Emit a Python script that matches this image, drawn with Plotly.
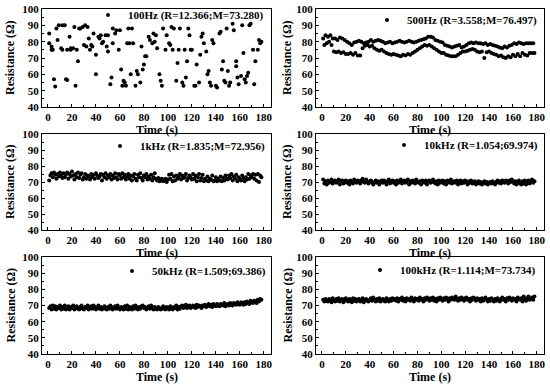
import plotly.graph_objects as go

# ---------------- data ----------------
T1 = [1, 1, 3, 3, 4, 5, 6, 7, 8, 9, 11, 12, 12, 14, 15, 16, 16, 18, 19, 19, 21, 22, 23, 24, 25,
      26, 27, 29, 30, 31, 32, 33, 34, 35, 36, 37, 38, 40, 40, 42, 43, 44, 45, 46, 48, 49, 50, 50,
      52, 53, 54, 54, 56, 57, 59, 60, 61, 62, 63, 64, 65, 66, 67, 68, 69, 70, 71, 73, 74, 75, 77,
      78, 79, 80, 81, 82, 84, 85, 87, 88, 89, 90, 91, 93, 94, 95, 96, 98, 99, 101, 102, 103, 104,
      105, 107, 108, 109, 110, 112, 113, 114, 115, 116, 117, 118, 119, 120, 122, 123, 124, 126,
      127, 128, 129, 130, 132, 133, 134, 135, 136, 137, 138, 140, 141, 143, 144, 145, 146, 147,
      148, 149, 150, 151, 152, 154, 155, 157, 157, 158, 159, 161, 162, 163, 164, 165, 166, 167,
      168, 169, 171, 172, 173, 175, 176, 177, 178]
R1 = [85, 79, 77, 75, 75, 57, 52.5, 88, 81, 90, 76, 75, 90, 90, 57, 56.5, 75, 83, 75, 76, 76, 89,
      53, 75, 68, 88, 88, 89, 78, 90, 77, 89, 82, 75, 78, 77, 85, 72, 60, 83, 82, 84, 79, 80, 84,
      77, 74, 84, 54, 58, 88, 79, 85, 87, 75, 87, 63, 53, 56, 55, 53, 79, 88, 79, 60, 88, 79, 53,
      62, 60, 55, 77, 63, 66, 71, 71, 83, 81, 79, 85, 80, 84, 76, 60, 56, 53, 88, 75, 84, 79, 78,
      89, 75, 88, 56, 67, 75, 88, 55, 53, 75, 58, 68, 88, 84, 75, 75, 53, 53, 66, 55, 72, 83, 85,
      79, 74, 60, 62, 55, 53, 81, 79, 53, 52, 85, 86, 63, 68, 56, 55, 88, 62, 53, 55, 91, 87, 65,
      68, 58, 54, 59, 90, 73, 57, 55, 59, 61, 90, 91, 75, 54, 68, 75, 81, 79, 80]

TIME = list(range(1, 179))

R2 = [82, 78, 84, 79, 83, 80, 84, 78, 82, 74,
      82, 73.5, 81, 74, 82.5, 73, 82, 73.5, 81, 72.5,
      80, 72.5, 79, 73, 78, 72, 79.5, 73, 80, 71.5,
      80.5, 71.5, 80, 76, 79, 77.5, 79.5, 78, 80, 77,
      81, 77.5, 80, 76, 80.5, 75, 81, 74.5, 80.5, 75,
      80, 74, 79, 73, 79.5, 72.5, 80, 72, 79, 72.5,
      79.5, 72, 80, 71.5, 80.5, 71, 80, 72, 79.5, 71.5,
      80, 72.5, 80.5, 72, 80, 73, 79.5, 74, 80, 75,
      80.5, 76, 81, 77, 81.5, 78, 82, 77.5, 83, 78,
      83, 77, 82.5, 76, 81, 75, 80.5, 74, 80, 73,
      79.5, 73, 78, 72, 77.5, 71.5, 77, 71, 76.5, 71,
      77, 71, 77.5, 72, 78, 73, 76.5, 74, 77, 74,
      78, 74.5, 79, 75, 79.5, 75.5, 79, 75, 79.5, 74,
      79, 73.5, 79, 74, 78.5, 70, 79, 73.5, 78, 74,
      78.5, 73, 78, 72.5, 77.5, 72, 77, 71, 76.5, 71.5,
      76, 70.5, 77, 70, 76.5, 71, 77.5, 70.5, 78, 72,
      79, 71, 78.5, 72.5, 79.5, 71, 79, 73, 78.5, 72,
      79, 71.5, 79, 73, 79, 73, 79, 73]

R3 = [71, 74, 75.5, 73, 76, 74.5, 72, 75, 73.5, 76,
      74, 72.5, 75.5, 73, 74.5, 76, 72, 75, 73.5, 76.5,
      74, 71.5, 75, 73, 76, 72.5, 74.5, 75.5, 71.5, 73,
      75, 72, 74, 73.5, 71.5, 75, 73, 74.5, 72, 75.5,
      74, 72.5, 73.5, 75, 71, 74.5, 73, 75.5, 72, 74,
      73, 75, 71.5, 74, 72.5, 75.5, 73, 71.5, 75, 74,
      72, 75.5, 73, 74.5, 71.5, 73.5, 75, 72, 74, 71,
      73.5, 75, 72, 71, 74.5, 73, 75.5, 72.5, 71, 74,
      73, 75, 71.5, 73.5, 72, 74.5, 71, 73, 75.5, 72,
      71, 72.5, 70.5, 71.5, 72, 70.5, 71, 72, 70, 71.5,
      74.5, 72, 75, 70.5, 73.5, 71, 74, 72, 73, 75,
      71.5, 74, 72.5, 73, 75, 71, 72.5, 74, 73, 71.5,
      75, 72, 74, 70.5, 73, 75, 71, 72.5, 74.5, 70.5,
      72, 71, 73.5, 70.5, 72, 71.5, 74, 70.5, 71, 73,
      70.5, 72, 71, 73.5, 70.5, 72.5, 71, 74, 72, 71.5,
      74, 72.5, 75, 71, 73.5, 72, 74.5, 70.5, 73, 72,
      71, 74, 72.5, 70.5, 73, 71.5, 75, 72, 74, 73,
      75, 72, 74.5, 71, 75, 70, 74, 73]

R4 = [71.5, 69, 70.5, 68.5, 71, 69.5, 70, 71.5, 69, 70.5,
      71, 69.5, 70, 71.5, 68.5, 70.5, 71, 69, 70, 71,
      69.5, 70.5, 68.5, 71, 70, 69, 71.5, 70, 69.5, 71,
      70.5, 69, 71, 72, 70, 69.5, 71.5, 70, 69, 70.5,
      71, 69.5, 68.5, 70, 71, 69.5, 70.5, 68.5, 70, 71,
      69.5, 71, 70, 68.5, 70.5, 71.5, 69, 70, 71, 69.5,
      70.5, 68.5, 71, 69.5, 70, 71.5, 69, 70.5, 71, 69.5,
      70, 71.5, 68.5, 70.5, 69.5, 71, 70, 69, 71.5, 70,
      69.5, 70.5, 68.5, 71, 70, 69.5, 71, 68.5, 70.5, 71,
      69.5, 70, 71.5, 70, 69, 70.5, 68.5, 71, 69.5, 70.5,
      71, 69, 70.5, 68.5, 71, 70, 69.5, 71.5, 69, 70,
      70.5, 69.5, 71, 68.5, 70, 71, 69, 70.5, 69.5, 71,
      70, 68.5, 70.5, 69.5, 71, 69, 70, 70.5, 68.5, 69.5,
      70.5, 69, 70, 68.5, 69.5, 70.5, 69, 70, 68.5, 69.5,
      70, 69, 70.5, 69.5, 68.5, 70, 71, 69.5, 70.5, 69,
      71, 70, 69.5, 71, 70.5, 69, 71, 70, 71.5, 70.5,
      69, 70.5, 68.5, 70, 71, 69, 68.5, 70.5, 69, 71,
      68.5, 70, 71, 69, 70.5, 71.5, 69.5, 70.5]

R5 = [68.5, 69.5, 67.5, 70, 68, 69.5, 67.5, 69, 68.5, 70,
      67.5, 69, 68, 70, 67.5, 68.5, 69.5, 67.5, 69, 68.5,
      70, 67.5, 68.5, 69.5, 68, 67.5, 69, 70, 68, 67.5,
      69, 68.5, 70, 67.5, 68.5, 69.5, 68, 70, 69, 67.5,
      68.5, 70, 68, 69, 67.5, 68.5, 69.5, 68, 67.5, 69,
      68, 70, 69, 67.5, 68.5, 69.5, 68, 70, 68.5, 67.5,
      69, 68.5, 67.5, 69.5, 68, 70, 67.5, 69, 68.5, 67.5,
      69.5, 68, 70, 68.5, 67.5, 69, 68, 69.5, 70, 68.5,
      69, 67.5, 68.5, 69.5, 68, 70, 68.5, 67.5, 69, 68,
      67.5, 69, 68.5, 67.5, 68, 69.5, 68, 67.5, 69, 68.5,
      67.5, 69.5, 68, 67.5, 69, 68.5, 70, 67.5, 69, 68,
      69.5, 70, 68.5, 69, 70.5, 68.5, 69.5, 70, 68.5, 69,
      70, 69, 68.5, 70.5, 69, 70, 69.5, 68.5, 70, 69.5,
      70.5, 69, 70, 71, 69.5, 70.5, 69, 71, 70, 69.5,
      71, 70, 69.5, 71, 70.5, 70, 71.5, 69.5, 70.5, 71,
      70, 71.5, 70.5, 70, 71.5, 71, 70.5, 72, 71, 70.5,
      72, 71.5, 70.5, 72, 71, 72.5, 71.5, 71, 73, 72,
      71.5, 73, 72.5, 71.5, 73.5, 72.5, 74, 73.5]

R6 = [73.5, 72.5, 74, 73, 72.5, 74, 73.5, 72, 74.5, 73,
      72.5, 74, 73, 74.5, 72.5, 73.5, 74, 72, 73.5, 74.5,
      73, 72.5, 74, 73.5, 72, 74.5, 73, 74, 72.5, 73.5,
      74, 72.5, 73, 74.5, 72, 73.5, 74, 73, 72.5, 73.5,
      74.5, 73, 75, 73.5, 72.5, 74, 73, 74.5, 72.5, 73.5,
      74, 73, 72.5, 74.5, 73.5, 72.5, 74, 73, 74.5, 73.5,
      74, 73, 74.5, 72.5, 74, 73.5, 75, 73, 74, 72.5,
      74.5, 73.5, 74, 73, 75, 73.5, 72.5, 74.5, 73.5, 74,
      73, 75, 73.5, 74, 72.5, 74.5, 73.5, 75, 74, 73,
      74.5, 73.5, 75, 73, 74, 72.5, 74.5, 73.5, 75, 74,
      73, 74.5, 73.5, 75, 74, 72.5, 74.5, 73.5, 75, 74,
      73.5, 75.5, 74, 73, 74.5, 73.5, 75, 74, 73, 74.5,
      75, 73.5, 74, 72.5, 74.5, 73.5, 75, 74, 73, 74.5,
      73.5, 74, 72.5, 74.5, 73, 74, 75, 73.5, 72.5, 74,
      73, 74.5, 73.5, 72.5, 74, 73, 74.5, 73.5, 72.5, 74,
      75, 73.5, 74, 72.5, 74.5, 73.5, 75, 74, 73, 74.5,
      73.5, 74, 72.5, 75, 74, 73.5, 74.5, 72.5, 75.5, 74,
      73, 74.5, 75.5, 73.5, 74, 75, 73.5, 75.5]

LABELS = ["100Hz (R=12.366;M=73.280)", "500Hz (R=3.558;M=76.497)",
          "1kHz (R=1.835;M=72.956)", "10kHz (R=1.054;69.974)",
          "50kHz (R=1.509;69.386)", "100kHz (R=1.114;M=73.734)"]
X_TICKS = [0, 20, 40, 60, 80, 100, 120, 140, 160, 180]
Y_TICKS = [40, 50, 60, 70, 80, 90, 100]
X_TITLE = "Time (s)"
Y_TITLE = "Resistance (Ω)"

SERIES = [(T1, R1), (TIME, R2), (TIME, R3), (TIME, R4), (TIME, R5), (TIME, R6)]

# ---------------- layout (pixels) ----------------
W, H = 550, 384
COLS = [(42, 271), (316, 544)]
ROWS = [(9, 107), (134, 230), (257, 354)]
LEG_POS = [(128, 15), (407, 20), (140, 146), (424, 145), (152, 271), (400, 270)]
FONT = "Liberation Serif"

fig = go.Figure()
layout = dict(width=W, height=H, margin=dict(l=0, r=0, t=0, b=0, autoexpand=False),
              paper_bgcolor="white", plot_bgcolor="white", showlegend=True,
              font=dict(family=FONT, color="black"))
annotations = []

for i, (xs, ys) in enumerate(SERIES):
    r, c = divmod(i, 2)
    n = "" if i == 0 else str(i + 1)
    x0, x1 = COLS[c]
    ytop, ybot = ROWS[r]
    leg = "legend" + n
    fig.add_trace(go.Scatter(x=xs, y=ys, mode="markers", name=LABELS[i],
                             xaxis="x" + n, yaxis="y" + n, legend=leg,
                             marker=dict(color="black", size=4)))
    axis_common = dict(showline=True, mirror=True, linecolor="black", linewidth=1,
                       ticks="inside", ticklen=3, tickwidth=1, tickcolor="black",
                       showgrid=False, zeroline=False, automargin=False,
                       tickfont=dict(family=FONT, size=11, color="black", weight="bold"))
    layout["xaxis" + n] = dict(axis_common, domain=[x0 / W, x1 / W], range=[-5, 186],
                               anchor="y" + n, tickvals=X_TICKS,
                               minor=dict(dtick=10, ticks="inside", ticklen=2, tickcolor="black"))
    layout["yaxis" + n] = dict(axis_common, domain=[1 - ybot / H, 1 - ytop / H], range=[40, 100],
                               anchor="x" + n, tickvals=Y_TICKS,
                               minor=dict(dtick=5, ticks="inside", ticklen=2, tickcolor="black"))
    lx, ly = LEG_POS[i]
    layout[leg] = dict(x=(lx - 40) / W, y=1 - ly / H, xanchor="left", yanchor="middle",
                       bgcolor="rgba(0,0,0,0)", borderwidth=0, itemwidth=30,
                       font=dict(family=FONT, size=11, color="black", weight="bold"))
    annotations.append(dict(text=Y_TITLE, textangle=-90, xref="paper", yref="paper",
                            x=(10 if c == 0 else 287) / W, y=1 - (ytop + ybot) / 2 / H,
                            showarrow=False, xanchor="center", yanchor="middle",
                            font=dict(family=FONT, size=12, color="black", weight="bold")))
    annotations.append(dict(text=X_TITLE, xref="paper", yref="paper",
                            x=(x0 + x1) / 2 / W, y=1 - (ybot + 23) / H,
                            showarrow=False, xanchor="center", yanchor="middle",
                            font=dict(family=FONT, size=12, color="black", weight="bold")))

layout["annotations"] = annotations
fig.update_layout(**layout)
fig.write_html("out.html", config={"displayModeBar": False},
               post_script="document.body.style.margin='0';document.body.style.overflow='hidden';")
